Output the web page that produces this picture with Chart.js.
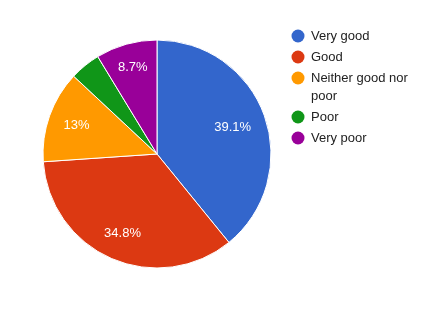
<!DOCTYPE html>
<html>
<head>
<meta charset="utf-8">
<script src="https://cdn.jsdelivr.net/npm/chart.js@4/dist/chart.umd.min.js"></script>
<style>
html,body{margin:0;padding:0;background:#fff;}
#wrap{width:443px;height:313px;position:relative;}
</style>
</head>
<body>
<div id="wrap"><canvas id="c" width="443" height="313"></canvas></div>
<script>
const categories = ["Very good", "Good", "Neither good nor poor", "Poor", "Very poor"];
const counts = [9, 8, 3, 1, 2];
const colors = ["#3366cc", "#dc3912", "#ff9900", "#109618", "#990099"];

const FONT = '"Liberation Sans", Arial, sans-serif';

function pctText(v, total) {
  const p = Math.round(v / total * 1000) / 10;
  return (Number.isInteger(p) ? p.toFixed(0) : p.toFixed(1)) + '%';
}

const sliceLabels = {
  id: 'sliceLabels',
  afterDatasetsDraw(chart) {
    const ctx = chart.ctx;
    const meta = chart.getDatasetMeta(0);
    const data = chart.data.datasets[0].data;
    const total = data.reduce((a, b) => a + b, 0);
    ctx.save();
    ctx.fillStyle = '#ffffff';
    ctx.font = '13px ' + FONT;
    ctx.textAlign = 'center';
    ctx.textBaseline = 'middle';
    meta.data.forEach((arc, i) => {
      if (data[i] / total < 0.05) return;
      const txt = pctText(data[i], total);
      const mid = (arc.startAngle + arc.endAngle) / 2;
      const ux = Math.cos(mid), uy = Math.sin(mid);
      const hw = ctx.measureText(txt).width / 2, hh = 4.5;
      const R = arc.outerRadius * 0.87;
      const b = Math.abs(ux) * hw + Math.abs(uy) * hh;
      const c = hw * hw + hh * hh - R * R;
      const d = -b + Math.sqrt(b * b - c);
      ctx.fillText(txt, arc.x + ux * d, arc.y + uy * d + 0.5);
    });
    ctx.restore();
  }
};

const sideLegend = {
  id: 'sideLegend',
  afterDraw(chart) {
    const ctx = chart.ctx;
    const labels = chart.data.labels;
    const bg = chart.data.datasets[0].backgroundColor;
    const cx = 298, textX = 311, maxW = 115, lineH = 18, gap = 21;
    let y = 36;
    ctx.save();
    ctx.font = '13px ' + FONT;
    ctx.textBaseline = 'middle';
    ctx.textAlign = 'left';
    labels.forEach((lab, i) => {
      const words = lab.split(' ');
      const lines = [];
      let cur = '';
      words.forEach(w => {
        const t = cur ? cur + ' ' + w : w;
        if (ctx.measureText(t).width > maxW && cur) { lines.push(cur); cur = w; }
        else cur = t;
      });
      if (cur) lines.push(cur);
      ctx.fillStyle = bg[i];
      ctx.beginPath();
      ctx.arc(cx, y, 6.5, 0, Math.PI * 2);
      ctx.fill();
      ctx.fillStyle = '#222222';
      lines.forEach((ln, k) => ctx.fillText(ln, textX, y + k * lineH + 0.5));
      y += gap + (lines.length - 1) * lineH;
    });
    ctx.restore();
  }
};

new Chart(document.getElementById('c'), {
  type: 'pie',
  data: {
    labels: categories,
    datasets: [{
      data: counts,
      backgroundColor: colors,
      borderColor: '#ffffff',
      borderWidth: 1,
      radius: 114
    }]
  },
  options: {
    responsive: false,
    animation: false,
    layout: { padding: { left: 0, right: 129, top: 0, bottom: 5 } },
    plugins: {
      legend: { display: false },
      tooltip: { enabled: false }
    }
  },
  plugins: [sliceLabels, sideLegend]
});
</script>
</body>
</html>
